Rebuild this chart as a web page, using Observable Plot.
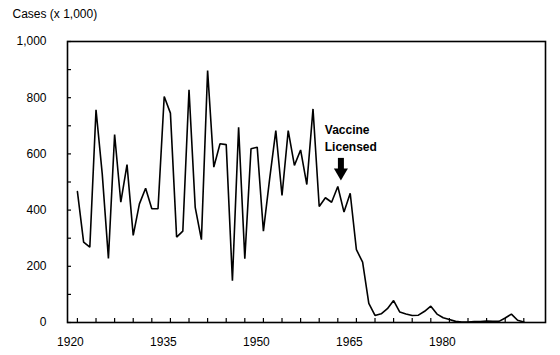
<!DOCTYPE html>
<html>
<head>
<meta charset="utf-8">
<script src="https://cdn.jsdelivr.net/npm/d3@7"></script>
<script src="https://cdn.jsdelivr.net/npm/@observablehq/plot@0.6"></script>
<style>
  html, body { margin: 0; padding: 0; background: #fff; }
  #chart svg { display: block; }
</style>
</head>
<body>
<div id="chart"></div>
<script>
// Years and reported measles cases (thousands)
const years = [1920,1921,1922,1923,1924,1925,1926,1927,1928,1929,
               1930,1931,1932,1933,1934,1935,1936,1937,1938,1939,
               1940,1941,1942,1943,1944,1945,1946,1947,1948,1949,
               1950,1951,1952,1953,1954,1955,1956,1957,1958,1959,
               1960,1961,1962,1963,1964,1965,1966,1967,1968,1969,
               1970,1971,1972,1973,1974,1975,1976,1977,1978,1979,
               1980,1981,1982,1983,1984,1985,1986,1987,1988,1989,
               1990,1991,1992];
const cases = [466,286,268,757,530,228,669,428,562,310,
               422,478,405,405,804,745,304,325,828,410,
               295,897,553,636,633,149,695,227,618,624,
               325,510,683,452,683,559,614,491,760,413,
               444,428,484,393,460,259,215,68,25,31,
               49,78,37,30,25,26,40,58,30,17,
               11,4,2,2,3,3,5,4,4,16,
               30,8,2];

// Axis ticks and labels
const xTickYears = [1920,1923,1926,1929,1932,1935,1938,1941,1944,1947,1950,1953,1956,1959,1962,1965,1968,1971,1974,1977,1980,1983,1986,1989,1992];
const xLabelYears = [1920,1935,1950,1965,1980];
const yMinorTicks = [0,100,200,300,400,500,600,700,800,900,1000];
const yLabelTicks = [0,200,400,600,800,1000];
const yTitle = "Cases (x 1,000)";

// Annotation
const noteText = ["Vaccine\nLicensed"];
const noteYear = [1959.9];
const noteValue = [712];
const arrowYear = [1962.5];
const arrowShaft = [584, 543];
const arrowHead = [534];

const data = years.map((y, i) => ({year: y, cases: cases[i]}));

const font = "'Liberation Sans', Arial, sans-serif";

const chart = Plot.plot({
  width: 560,
  height: 355,
  marginLeft: 67,
  marginRight: 15,
  marginTop: 41,
  marginBottom: 33,
  style: {fontFamily: font, fontSize: "12px", background: "#fff", color: "#000"},
  x: {domain: [1918.4, 1995.5], label: null},
  y: {domain: [0, 1000], label: null},
  marks: [
    Plot.frame({stroke: "#000", strokeWidth: 1.6}),
    // inward tick marks
    Plot.axisX({ticks: xTickYears, tickSize: -4, tickFormat: () => "", stroke: "#000", strokeWidth: 1.2, label: null}),
    Plot.axisX({ticks: xLabelYears, tickSize: 0, tickPadding: 15, dx: -7, tickFormat: d => String(d), fontSize: 12, fill: "#000", label: null}),
    Plot.axisY({ticks: yMinorTicks, tickSize: -4, tickFormat: () => "", stroke: "#000", strokeWidth: 1.2, label: null}),
    Plot.axisY({ticks: yLabelTicks, tickSize: 0, tickPadding: 21, tickFormat: d => d3.format(",")(d), fontSize: 12, fill: "#000", label: null}),
    Plot.text([yTitle], {frameAnchor: "top-left", dx: -55, dy: -27, textAnchor: "start", lineAnchor: "middle", fontSize: 12, fill: "#000"}),
    Plot.line(data, {x: "year", y: "cases", stroke: "#000", strokeWidth: 1.6, strokeLinejoin: "miter"}),
    Plot.text(noteText, {x: noteYear, y: noteValue, text: d => d, textAnchor: "start", lineAnchor: "top", lineHeight: 1.4,
      fontFamily: "'Liberation Sans Narrow', 'Arial Narrow', 'Liberation Sans', sans-serif", fontWeight: "bold", fontSize: 12, fill: "#000"}),
    Plot.ruleX(arrowYear, {x: d => d, y1: arrowShaft[0], y2: arrowShaft[1], stroke: "#000", strokeWidth: 6}),
    Plot.dot(arrowYear, {x: d => d, y: arrowHead, symbol: "triangle", rotate: 180, r: 5.2, fill: "#000", stroke: "none"})
  ]
});
document.getElementById("chart").append(chart);
</script>
</body>
</html>
